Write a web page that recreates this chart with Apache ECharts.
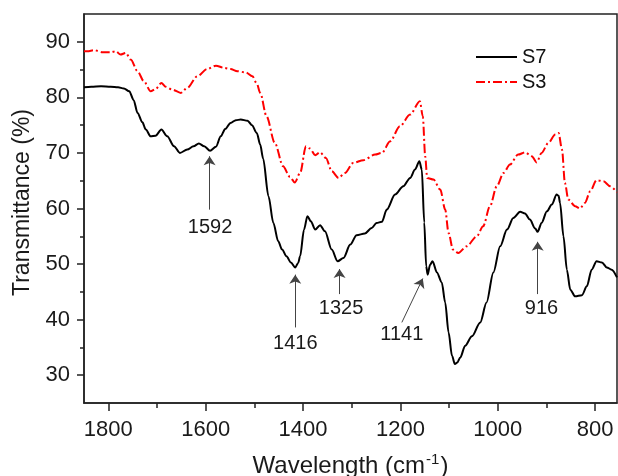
<!DOCTYPE html>
<html><head><meta charset="utf-8">
<script src="https://cdn.jsdelivr.net/npm/echarts@6/dist/echarts.min.js"></script>
<style>html,body{margin:0;padding:0;background:#fff}#c{width:618px;height:476px}</style>
</head><body><div id="c"></div><script>
const s7Wavenumbers=[1850,1835,1815,1795,1780,1768,1757,1748,1740,1730,1723,1713,1703,1691,1679,1665,1653,1638,1625,1614,1603,1591,1579,1569,1560,1549,1538,1528,1514,1505,1495,1488,1482,1471,1461,1451,1443,1434,1425,1416,1410,1406,1398,1391,1384,1375,1365,1355,1341,1329,1317,1303,1290,1273,1259,1249,1238,1228,1211,1194,1180,1170,1161,1156,1151,1147,1144,1139,1134,1125,1115,1108,1101,1094,1088,1083,1077,1067,1053,1036,1023,1009,995,981,968,954,944,934,923,918,910,899,889,879,875,872,865,858,851,841,827,817,807,797,786,776,766,755];
const s7Values=[81.8,81.9,82.0,81.9,81.8,81.6,81.1,79.5,77.2,75.5,74.2,73.0,73.1,74.2,73.0,71.2,70.0,70.6,71.2,71.7,71.2,70.4,71.1,73.0,74.3,75.4,75.9,76.0,75.8,75.0,73.6,71.5,69.0,62.2,57.4,54.1,52.6,51.4,50.3,49.4,50.2,51.4,56.2,58.6,57.7,56.2,57.0,55.9,52.6,50.5,51.1,53.5,55.2,55.5,56.5,57.4,57.6,59.8,62.5,64.0,65.5,67.0,68.5,67.0,57.5,49.6,48.1,49.9,50.5,48.5,46.7,43.1,37.7,33.5,32.0,32.3,33.2,35.3,37.0,39.5,43.1,48.5,53.2,56.2,58.3,59.4,59.1,58.0,56.4,55.8,57.4,59.5,60.7,62.5,62.3,61.0,55.0,49.0,45.4,44.2,44.4,46.0,49.0,50.5,50.3,49.4,49.0,47.6];
const s3Wavenumbers=[1850,1843,1829,1812,1795,1785,1775,1764,1754,1740,1727,1713,1703,1691,1682,1669,1651,1638,1617,1597,1579,1562,1549,1535,1518,1504,1495,1488,1475,1458,1441,1427,1417,1406,1394,1386,1375,1365,1353,1341,1327,1314,1297,1276,1252,1238,1221,1201,1180,1160,1154,1149,1145,1132,1118,1108,1101,1092,1081,1064,1043,1030,1016,1002,988,975,958,944,930,920,910,896,882,875,868,862,855,841,831,821,810,797,783,769,755];
const s3Values=[88.3,88.3,88.5,88.1,88.1,88.3,87.7,88.0,86.8,84.7,82.9,81.1,81.5,82.6,81.9,81.4,80.8,81.7,83.8,85.1,85.7,85.3,85.1,84.7,84.5,83.8,82.5,80.8,76.6,71.8,67.6,65.7,64.7,66.4,71.2,70.8,69.6,70.1,69.1,66.7,65.5,66.4,68.2,68.7,69.7,70.0,72.1,74.8,76.9,79.3,76.6,69.4,65.5,65.2,63.4,59.8,55.6,52.6,52.0,53.2,55.0,56.8,60.4,64.0,66.4,67.9,69.7,70.1,69.4,68.3,70.0,71.8,73.3,73.6,70.6,64.6,61.6,60.4,60.0,61.0,63.1,65.1,64.9,64.0,62.9];
const seriesNames=['S7','S3'];
const xMajorTicks=[800,1000,1200,1400,1600,1800];
const xMinorTicks=[900,1100,1300,1500,1700];
const yMajorTicks=[30,40,50,60,70,80,90];
const yMinorTicks=[35,45,55,65,75,85];
// peak annotations: label, arrow tail [wavenumber, T], arrow tip [wavenumber, T], label anchor [wavenumber, T]
const peakLabels=['1592','1416','1325','1141','916'];
const peakTails=[[1592,59.8],[1416,38.6],[1325,44.6],[1197,39.5],[918,44.6]];
const peakTips=[[1592,69.4],[1416,48.1],[1325,49.1],[1154,47.4],[918,54.0]];
const peakLabelAt=[[1591,56.6],[1416,35.7],[1322,42.0],[1197,37.3],[910,42.0]];

const FONT='"Liberation Sans", Arial, sans-serif';
const zip=(a,b)=>a.map((v,i)=>[v,b[i]]);
const fmt=v=>String(v);
const chart=echarts.init(document.getElementById('c'),null,{renderer:'canvas'});
const axisCommonX={type:'value',inverse:true,min:755,max:1850,gridIndex:0,splitLine:{show:false}};
const axisCommonY={type:'value',min:25,max:95,gridIndex:0,splitLine:{show:false}};
chart.setOption({
  animation:false,
  backgroundColor:'#fff',
  textStyle:{fontFamily:FONT},
  grid:{left:84,right:1,top:14,bottom:73,outerBoundsMode:'none',containLabel:false,show:true,borderColor:'#222',borderWidth:1.5,backgroundColor:'transparent'},
  legend:{data:seriesNames,orient:'vertical',left:470,top:42,itemWidth:41,itemHeight:20,itemGap:5,
    itemStyle:{color:'rgba(0,0,0,0)',borderWidth:0,borderColor:'rgba(0,0,0,0)'},
    textStyle:{fontSize:20,color:'#111',fontFamily:FONT}},
  xAxis:[
    Object.assign({},axisCommonX,{position:'bottom',
      axisLine:{show:true,onZero:false,lineStyle:{color:'#222',width:1.5}},
      axisTick:{show:true,inside:false,customValues:xMajorTicks,length:8,lineStyle:{color:'#222',width:1.5}},
      axisLabel:{show:true,customValues:xMajorTicks,formatter:fmt,fontSize:22,color:'#1a1a1a',margin:16,fontFamily:FONT},
      name:'{a|Wavelength (cm}{s|-1}{a|)}',nameLocation:'middle',nameGap:49,
      nameTextStyle:{fontFamily:FONT,rich:{a:{fontSize:24,color:'#1a1a1a',fontFamily:FONT,lineHeight:28},s:{fontSize:15,color:'#1a1a1a',fontFamily:FONT,verticalAlign:'top',padding:[0,1,10,1]}}}}),
    Object.assign({},axisCommonX,{position:'bottom',
      axisLine:{show:false,onZero:false},
      axisTick:{show:true,inside:false,customValues:xMinorTicks,length:5,lineStyle:{color:'#222',width:1.5}},
      axisLabel:{show:false}})
  ],
  yAxis:[
    Object.assign({},axisCommonY,{position:'left',
      axisLine:{show:true,onZero:false,lineStyle:{color:'#222',width:1.5}},
      axisTick:{show:true,inside:false,customValues:yMajorTicks,length:7,lineStyle:{color:'#222',width:1.5}},
      axisLabel:{show:true,customValues:yMajorTicks,formatter:fmt,fontSize:22,color:'#1a1a1a',margin:14,fontFamily:FONT},
      name:'Transmittance (%)',nameLocation:'middle',nameGap:50,
      nameTextStyle:{fontSize:23,color:'#1a1a1a',fontFamily:FONT,padding:[0,0,0,12]}}),
    Object.assign({},axisCommonY,{position:'left',
      axisLine:{show:false,onZero:false},
      axisTick:{show:true,inside:false,customValues:yMinorTicks,length:4,lineStyle:{color:'#222',width:1.5}},
      axisLabel:{show:false}})
  ],
  series:[
    {name:seriesNames[0],type:'line',xAxisIndex:0,yAxisIndex:0,data:zip(s7Wavenumbers,s7Values),
      symbol:'none',smooth:0.3,smoothMonotone:'x',color:'#000',lineStyle:{color:'#000',width:2},
      markLine:{silent:true,symbol:['none','arrow'],symbolSize:9,animation:false,
        lineStyle:{color:'#444',width:1,type:'solid'},label:{show:false},
        data:peakTails.map((t,i)=>[{coord:t},{coord:peakTips[i]}])},
      markPoint:{silent:true,symbol:'circle',symbolSize:1,itemStyle:{color:'rgba(0,0,0,0)'},
        label:{show:true,position:'inside',formatter:'{b}',fontSize:20,color:'#1a1a1a',fontFamily:FONT},
        data:peakLabels.map((l,i)=>({name:l,coord:peakLabelAt[i]}))}
    },
    {name:seriesNames[1],type:'line',xAxisIndex:0,yAxisIndex:0,data:zip(s3Wavenumbers,s3Values),
      symbol:'none',smooth:0.3,smoothMonotone:'x',color:'#ff0000',lineStyle:{color:'#ff0000',width:2,type:[9,3,2,3]}}
  ]
});
</script></body></html>
